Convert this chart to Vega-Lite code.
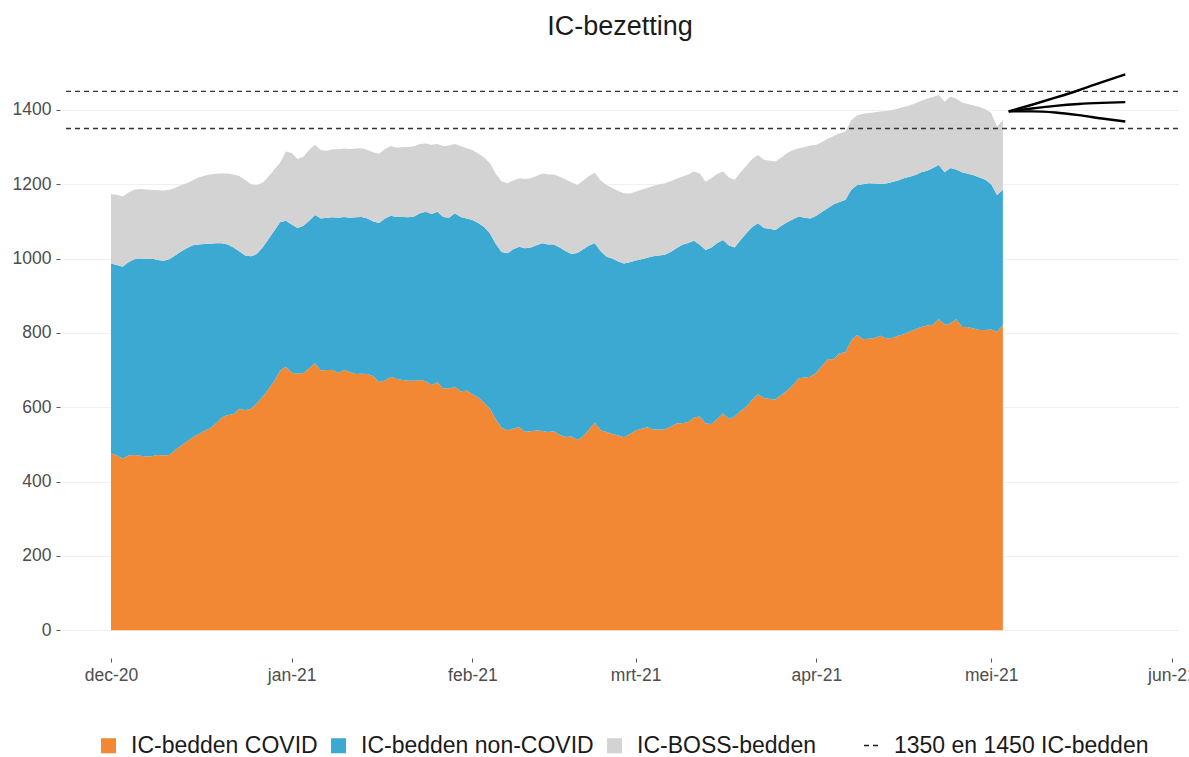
{
  "$schema": "https://vega.github.io/schema/vega-lite/v6.json",
  "width": 1116,
  "height": 609,
  "autosize": {"type": "none"},
  "padding": {"left": 62, "top": 49, "right": 11, "bottom": 99},
  "background": "white",
  "config": {
    "font": "Liberation Sans",
    "view": {"stroke": null},
    "axis": {"labelFont": "Liberation Sans"},
    "legend": {"labelFont": "Liberation Sans"}
  },
  "title": {
    "text": "IC-bezetting",
    "fontSize": 27,
    "fontWeight": "normal",
    "color": "#1a1a1a",
    "anchor": "middle",
    "offset": 8
  },
  "layer": [
    {
      "data": {
        "values": [
          {"date":"2020-12-01","bedden_covid":476,"bedden_noncovid":511,"boss_bedden":187},
          {"date":"2020-12-02","bedden_covid":470,"bedden_noncovid":513,"boss_bedden":189},
          {"date":"2020-12-03","bedden_covid":462,"bedden_noncovid":516,"boss_bedden":189},
          {"date":"2020-12-04","bedden_covid":470,"bedden_noncovid":520,"boss_bedden":188},
          {"date":"2020-12-05","bedden_covid":471,"bedden_noncovid":527,"boss_bedden":187},
          {"date":"2020-12-06","bedden_covid":469,"bedden_noncovid":531,"boss_bedden":187},
          {"date":"2020-12-07","bedden_covid":467,"bedden_noncovid":532,"boss_bedden":187},
          {"date":"2020-12-08","bedden_covid":468,"bedden_noncovid":532,"boss_bedden":185},
          {"date":"2020-12-09","bedden_covid":471,"bedden_noncovid":525,"boss_bedden":188},
          {"date":"2020-12-10","bedden_covid":470,"bedden_noncovid":524,"boss_bedden":189},
          {"date":"2020-12-11","bedden_covid":471,"bedden_noncovid":527,"boss_bedden":187},
          {"date":"2020-12-12","bedden_covid":485,"bedden_noncovid":523,"boss_bedden":182},
          {"date":"2020-12-13","bedden_covid":496,"bedden_noncovid":523,"boss_bedden":178},
          {"date":"2020-12-14","bedden_covid":508,"bedden_noncovid":520,"boss_bedden":175},
          {"date":"2020-12-15","bedden_covid":519,"bedden_noncovid":517,"boss_bedden":174},
          {"date":"2020-12-16","bedden_covid":527,"bedden_noncovid":511,"boss_bedden":180},
          {"date":"2020-12-17","bedden_covid":536,"bedden_noncovid":503,"boss_bedden":184},
          {"date":"2020-12-18","bedden_covid":543,"bedden_noncovid":497,"boss_bedden":186},
          {"date":"2020-12-19","bedden_covid":556,"bedden_noncovid":485,"boss_bedden":187},
          {"date":"2020-12-20","bedden_covid":572,"bedden_noncovid":469,"boss_bedden":188},
          {"date":"2020-12-21","bedden_covid":579,"bedden_noncovid":459,"boss_bedden":191},
          {"date":"2020-12-22","bedden_covid":581,"bedden_noncovid":449,"boss_bedden":196},
          {"date":"2020-12-23","bedden_covid":596,"bedden_noncovid":424,"boss_bedden":202},
          {"date":"2020-12-24","bedden_covid":592,"bedden_noncovid":416,"boss_bedden":204},
          {"date":"2020-12-25","bedden_covid":596,"bedden_noncovid":410,"boss_bedden":194},
          {"date":"2020-12-26","bedden_covid":610,"bedden_noncovid":402,"boss_bedden":186},
          {"date":"2020-12-27","bedden_covid":628,"bedden_noncovid":402,"boss_bedden":174},
          {"date":"2020-12-28","bedden_covid":648,"bedden_noncovid":404,"boss_bedden":168},
          {"date":"2020-12-29","bedden_covid":670,"bedden_noncovid":405,"boss_bedden":165},
          {"date":"2020-12-30","bedden_covid":698,"bedden_noncovid":400,"boss_bedden":160},
          {"date":"2020-12-31","bedden_covid":709,"bedden_noncovid":393,"boss_bedden":186},
          {"date":"2021-01-01","bedden_covid":693,"bedden_noncovid":399,"boss_bedden":192},
          {"date":"2021-01-02","bedden_covid":690,"bedden_noncovid":392,"boss_bedden":186},
          {"date":"2021-01-03","bedden_covid":692,"bedden_noncovid":396,"boss_bedden":186},
          {"date":"2021-01-04","bedden_covid":705,"bedden_noncovid":397,"boss_bedden":190},
          {"date":"2021-01-05","bedden_covid":718,"bedden_noncovid":399,"boss_bedden":189},
          {"date":"2021-01-06","bedden_covid":698,"bedden_noncovid":410,"boss_bedden":184},
          {"date":"2021-01-07","bedden_covid":700,"bedden_noncovid":410,"boss_bedden":180},
          {"date":"2021-01-08","bedden_covid":700,"bedden_noncovid":411,"boss_bedden":183},
          {"date":"2021-01-09","bedden_covid":693,"bedden_noncovid":417,"boss_bedden":184},
          {"date":"2021-01-10","bedden_covid":700,"bedden_noncovid":412,"boss_bedden":184},
          {"date":"2021-01-11","bedden_covid":695,"bedden_noncovid":415,"boss_bedden":185},
          {"date":"2021-01-12","bedden_covid":689,"bedden_noncovid":422,"boss_bedden":185},
          {"date":"2021-01-13","bedden_covid":690,"bedden_noncovid":422,"boss_bedden":185},
          {"date":"2021-01-14","bedden_covid":689,"bedden_noncovid":419,"boss_bedden":184},
          {"date":"2021-01-15","bedden_covid":683,"bedden_noncovid":417,"boss_bedden":186},
          {"date":"2021-01-16","bedden_covid":668,"bedden_noncovid":428,"boss_bedden":186},
          {"date":"2021-01-17","bedden_covid":672,"bedden_noncovid":436,"boss_bedden":187},
          {"date":"2021-01-18","bedden_covid":682,"bedden_noncovid":433,"boss_bedden":188},
          {"date":"2021-01-19","bedden_covid":676,"bedden_noncovid":436,"boss_bedden":186},
          {"date":"2021-01-20","bedden_covid":673,"bedden_noncovid":439,"boss_bedden":188},
          {"date":"2021-01-21","bedden_covid":671,"bedden_noncovid":440,"boss_bedden":189},
          {"date":"2021-01-22","bedden_covid":671,"bedden_noncovid":442,"boss_bedden":189},
          {"date":"2021-01-23","bedden_covid":673,"bedden_noncovid":449,"boss_bedden":186},
          {"date":"2021-01-24","bedden_covid":670,"bedden_noncovid":456,"boss_bedden":184},
          {"date":"2021-01-25","bedden_covid":660,"bedden_noncovid":460,"boss_bedden":186},
          {"date":"2021-01-26","bedden_covid":667,"bedden_noncovid":459,"boss_bedden":182},
          {"date":"2021-01-27","bedden_covid":650,"bedden_noncovid":462,"boss_bedden":190},
          {"date":"2021-01-28","bedden_covid":650,"bedden_noncovid":460,"boss_bedden":194},
          {"date":"2021-01-29","bedden_covid":655,"bedden_noncovid":467,"boss_bedden":186},
          {"date":"2021-01-30","bedden_covid":642,"bedden_noncovid":470,"boss_bedden":190},
          {"date":"2021-01-31","bedden_covid":645,"bedden_noncovid":463,"boss_bedden":189},
          {"date":"2021-02-01","bedden_covid":635,"bedden_noncovid":469,"boss_bedden":188},
          {"date":"2021-02-02","bedden_covid":626,"bedden_noncovid":470,"boss_bedden":187},
          {"date":"2021-02-03","bedden_covid":612,"bedden_noncovid":473,"boss_bedden":187},
          {"date":"2021-02-04","bedden_covid":596,"bedden_noncovid":472,"boss_bedden":189},
          {"date":"2021-02-05","bedden_covid":568,"bedden_noncovid":472,"boss_bedden":188},
          {"date":"2021-02-06","bedden_covid":545,"bedden_noncovid":473,"boss_bedden":190},
          {"date":"2021-02-07","bedden_covid":538,"bedden_noncovid":476,"boss_bedden":189},
          {"date":"2021-02-08","bedden_covid":542,"bedden_noncovid":483,"boss_bedden":185},
          {"date":"2021-02-09","bedden_covid":547,"bedden_noncovid":485,"boss_bedden":184},
          {"date":"2021-02-10","bedden_covid":534,"bedden_noncovid":494,"boss_bedden":186},
          {"date":"2021-02-11","bedden_covid":535,"bedden_noncovid":495,"boss_bedden":186},
          {"date":"2021-02-12","bedden_covid":537,"bedden_noncovid":499,"boss_bedden":186},
          {"date":"2021-02-13","bedden_covid":536,"bedden_noncovid":505,"boss_bedden":188},
          {"date":"2021-02-14","bedden_covid":533,"bedden_noncovid":505,"boss_bedden":188},
          {"date":"2021-02-15","bedden_covid":535,"bedden_noncovid":503,"boss_bedden":188},
          {"date":"2021-02-16","bedden_covid":525,"bedden_noncovid":505,"boss_bedden":190},
          {"date":"2021-02-17","bedden_covid":520,"bedden_noncovid":500,"boss_bedden":193},
          {"date":"2021-02-18","bedden_covid":521,"bedden_noncovid":491,"boss_bedden":193},
          {"date":"2021-02-19","bedden_covid":512,"bedden_noncovid":503,"boss_bedden":183},
          {"date":"2021-02-20","bedden_covid":522,"bedden_noncovid":503,"boss_bedden":185},
          {"date":"2021-02-21","bedden_covid":540,"bedden_noncovid":495,"boss_bedden":187},
          {"date":"2021-02-22","bedden_covid":558,"bedden_noncovid":483,"boss_bedden":190},
          {"date":"2021-02-23","bedden_covid":538,"bedden_noncovid":482,"boss_bedden":190},
          {"date":"2021-02-24","bedden_covid":533,"bedden_noncovid":472,"boss_bedden":193},
          {"date":"2021-02-25","bedden_covid":528,"bedden_noncovid":472,"boss_bedden":190},
          {"date":"2021-02-26","bedden_covid":524,"bedden_noncovid":468,"boss_bedden":190},
          {"date":"2021-02-27","bedden_covid":519,"bedden_noncovid":468,"boss_bedden":189},
          {"date":"2021-02-28","bedden_covid":528,"bedden_noncovid":462,"boss_bedden":185},
          {"date":"2021-03-01","bedden_covid":537,"bedden_noncovid":458,"boss_bedden":185},
          {"date":"2021-03-02","bedden_covid":542,"bedden_noncovid":456,"boss_bedden":187},
          {"date":"2021-03-03","bedden_covid":546,"bedden_noncovid":456,"boss_bedden":188},
          {"date":"2021-03-04","bedden_covid":540,"bedden_noncovid":466,"boss_bedden":189},
          {"date":"2021-03-05","bedden_covid":540,"bedden_noncovid":468,"boss_bedden":191},
          {"date":"2021-03-06","bedden_covid":540,"bedden_noncovid":470,"boss_bedden":193},
          {"date":"2021-03-07","bedden_covid":548,"bedden_noncovid":470,"boss_bedden":190},
          {"date":"2021-03-08","bedden_covid":556,"bedden_noncovid":472,"boss_bedden":187},
          {"date":"2021-03-09","bedden_covid":557,"bedden_noncovid":480,"boss_bedden":183},
          {"date":"2021-03-10","bedden_covid":560,"bedden_noncovid":482,"boss_bedden":184},
          {"date":"2021-03-11","bedden_covid":572,"bedden_noncovid":476,"boss_bedden":186},
          {"date":"2021-03-12","bedden_covid":575,"bedden_noncovid":462,"boss_bedden":192},
          {"date":"2021-03-13","bedden_covid":556,"bedden_noncovid":467,"boss_bedden":184},
          {"date":"2021-03-14","bedden_covid":555,"bedden_noncovid":475,"boss_bedden":186},
          {"date":"2021-03-15","bedden_covid":568,"bedden_noncovid":474,"boss_bedden":186},
          {"date":"2021-03-16","bedden_covid":583,"bedden_noncovid":467,"boss_bedden":184},
          {"date":"2021-03-17","bedden_covid":568,"bedden_noncovid":467,"boss_bedden":183},
          {"date":"2021-03-18","bedden_covid":575,"bedden_noncovid":455,"boss_bedden":182},
          {"date":"2021-03-19","bedden_covid":590,"bedden_noncovid":460,"boss_bedden":182},
          {"date":"2021-03-20","bedden_covid":601,"bedden_noncovid":467,"boss_bedden":182},
          {"date":"2021-03-21","bedden_covid":620,"bedden_noncovid":465,"boss_bedden":183},
          {"date":"2021-03-22","bedden_covid":635,"bedden_noncovid":460,"boss_bedden":184},
          {"date":"2021-03-23","bedden_covid":625,"bedden_noncovid":457,"boss_bedden":184},
          {"date":"2021-03-24","bedden_covid":622,"bedden_noncovid":458,"boss_bedden":183},
          {"date":"2021-03-25","bedden_covid":621,"bedden_noncovid":456,"boss_bedden":184},
          {"date":"2021-03-26","bedden_covid":633,"bedden_noncovid":455,"boss_bedden":184},
          {"date":"2021-03-27","bedden_covid":645,"bedden_noncovid":453,"boss_bedden":186},
          {"date":"2021-03-28","bedden_covid":660,"bedden_noncovid":446,"boss_bedden":186},
          {"date":"2021-03-29","bedden_covid":678,"bedden_noncovid":435,"boss_bedden":184},
          {"date":"2021-03-30","bedden_covid":680,"bedden_noncovid":430,"boss_bedden":190},
          {"date":"2021-03-31","bedden_covid":682,"bedden_noncovid":426,"boss_bedden":196},
          {"date":"2021-04-01","bedden_covid":693,"bedden_noncovid":422,"boss_bedden":191},
          {"date":"2021-04-02","bedden_covid":712,"bedden_noncovid":414,"boss_bedden":188},
          {"date":"2021-04-03","bedden_covid":729,"bedden_noncovid":407,"boss_bedden":187},
          {"date":"2021-04-04","bedden_covid":729,"bedden_noncovid":417,"boss_bedden":184},
          {"date":"2021-04-05","bedden_covid":745,"bedden_noncovid":407,"boss_bedden":185},
          {"date":"2021-04-06","bedden_covid":748,"bedden_noncovid":410,"boss_bedden":184},
          {"date":"2021-04-07","bedden_covid":780,"bedden_noncovid":405,"boss_bedden":187},
          {"date":"2021-04-08","bedden_covid":794,"bedden_noncovid":404,"boss_bedden":188},
          {"date":"2021-04-09","bedden_covid":783,"bedden_noncovid":417,"boss_bedden":190},
          {"date":"2021-04-10","bedden_covid":784,"bedden_noncovid":419,"boss_bedden":189},
          {"date":"2021-04-11","bedden_covid":786,"bedden_noncovid":416,"boss_bedden":192},
          {"date":"2021-04-12","bedden_covid":792,"bedden_noncovid":409,"boss_bedden":195},
          {"date":"2021-04-13","bedden_covid":785,"bedden_noncovid":417,"boss_bedden":195},
          {"date":"2021-04-14","bedden_covid":786,"bedden_noncovid":420,"boss_bedden":194},
          {"date":"2021-04-15","bedden_covid":792,"bedden_noncovid":418,"boss_bedden":194},
          {"date":"2021-04-16","bedden_covid":796,"bedden_noncovid":420,"boss_bedden":192},
          {"date":"2021-04-17","bedden_covid":804,"bedden_noncovid":416,"boss_bedden":192},
          {"date":"2021-04-18","bedden_covid":810,"bedden_noncovid":415,"boss_bedden":193},
          {"date":"2021-04-19","bedden_covid":816,"bedden_noncovid":416,"boss_bedden":193},
          {"date":"2021-04-20","bedden_covid":820,"bedden_noncovid":416,"boss_bedden":194},
          {"date":"2021-04-21","bedden_covid":822,"bedden_noncovid":422,"boss_bedden":191},
          {"date":"2021-04-22","bedden_covid":837,"bedden_noncovid":415,"boss_bedden":188},
          {"date":"2021-04-23","bedden_covid":822,"bedden_noncovid":410,"boss_bedden":190},
          {"date":"2021-04-24","bedden_covid":825,"bedden_noncovid":419,"boss_bedden":192},
          {"date":"2021-04-25","bedden_covid":837,"bedden_noncovid":403,"boss_bedden":190},
          {"date":"2021-04-26","bedden_covid":816,"bedden_noncovid":416,"boss_bedden":188},
          {"date":"2021-04-27","bedden_covid":816,"bedden_noncovid":412,"boss_bedden":188},
          {"date":"2021-04-28","bedden_covid":812,"bedden_noncovid":412,"boss_bedden":188},
          {"date":"2021-04-29","bedden_covid":808,"bedden_noncovid":410,"boss_bedden":190},
          {"date":"2021-04-30","bedden_covid":808,"bedden_noncovid":404,"boss_bedden":190},
          {"date":"2021-05-01","bedden_covid":809,"bedden_noncovid":391,"boss_bedden":192},
          {"date":"2021-05-02","bedden_covid":803,"bedden_noncovid":368,"boss_bedden":184},
          {"date":"2021-05-03","bedden_covid":821,"bedden_noncovid":364,"boss_bedden":188}
        ]
      },
      "transform": [{"fold": ["bedden_covid", "bedden_noncovid", "boss_bedden"], "as": ["serie", "aantal"]}],
      "mark": {"type": "area", "interpolate": "linear"},
      "encoding": {
        "x": {
          "field": "date",
          "type": "temporal",
          "scale": {
            "type": "utc",
            "domain": [
              {"year": 2020, "month": 11, "date": 22, "hours": 14, "minutes": 17, "utc": true},
              {"year": 2021, "month": 6, "date": 2, "hours": 1, "utc": true}
            ]
          },
          "axis": {
            "title": null,
            "grid": false,
            "domain": false,
            "values": [
              {"year": 2020, "month": 12, "date": 1, "utc": true},
              {"year": 2021, "month": 1, "date": 1, "utc": true},
              {"year": 2021, "month": 2, "date": 1, "utc": true},
              {"year": 2021, "month": 3, "date": 1, "utc": true},
              {"year": 2021, "month": 4, "date": 1, "utc": true},
              {"year": 2021, "month": 5, "date": 1, "utc": true},
              {"year": 2021, "month": 6, "date": 1, "utc": true}
            ],
            "labelExpr": "['jan','feb','mrt','apr','mei','jun','jul','aug','sep','okt','nov','dec'][utcmonth(datum.value)] + '-' + utcFormat(datum.value, '%y')",
            "labelFontSize": 17.5,
            "labelColor": "#4d4d4d",
            "tickColor": "#555555",
            "tickSize": 4,
            "labelPadding": 4,
            "labelFlush": false,
            "labelOverlap": false
          }
        },
        "y": {
          "field": "aantal",
          "type": "quantitative",
          "stack": "zero",
          "scale": {"domain": [-75, 1564], "nice": false, "zero": false},
          "axis": {
            "title": null,
            "values": [0, 200, 400, 600, 800, 1000, 1200, 1400],
            "format": "d",
            "grid": true,
            "gridColor": "#f0f0f0",
            "gridWidth": 1,
            "domain": false,
            "offset": 2,
            "labelFontSize": 17.5,
            "labelColor": "#4d4d4d",
            "tickColor": "#555555",
            "tickSize": 4,
            "labelPadding": 5
          }
        },
        "order": {"field": "serie", "type": "nominal", "sort": "ascending"},
        "color": {
          "field": "serie",
          "type": "nominal",
          "sort": ["bedden_covid", "bedden_noncovid", "boss_bedden"],
          "scale": {
            "domain": ["bedden_covid", "bedden_noncovid", "boss_bedden"],
            "range": ["#f28734", "#3ba9d2", "#d3d3d3"]
          },
          "legend": {
            "title": null,
            "orient": "none",
            "direction": "horizontal",
            "legendX": 35,
            "legendY": 685,
            "symbolType": "square",
            "symbolSize": 225,
            "symbolStrokeWidth": 0,
            "labelFontSize": 23,
            "labelColor": "#1a1a1a",
            "labelOffset": 11,
            "labelLimit": 0,
            "columnPadding": 9,
            "labelExpr": "datum.label == 'bedden_covid' ? 'IC-bedden COVID' : datum.label == 'bedden_noncovid' ? 'IC-bedden non-COVID' : 'IC-BOSS-bedden'"
          }
        }
      }
    },
    {
      "data": {"values": [{"grens": 1350}, {"grens": 1450}]},
      "mark": {"type": "rule", "color": "#333333", "strokeWidth": 1.3},
      "encoding": {
        "y": {"field": "grens", "type": "quantitative"},
        "strokeDash": {
          "datum": "1350 en 1450 IC-bedden",
          "type": "nominal",
          "scale": {"range": [[5, 4]]},
          "legend": {
            "title": null,
            "orient": "none",
            "legendX": 798,
            "legendY": 685,
            "symbolType": "stroke",
            "symbolSize": 225,
            "symbolStrokeColor": "#1a1a1a",
            "symbolStrokeWidth": 1.5,
            "labelFontSize": 23,
            "labelColor": "#1a1a1a",
            "labelOffset": 11,
            "labelLimit": 0
          }
        }
      }
    },
    {
      "data": {
        "values": [
          {"date": "2021-05-04", "scenario": "hoog", "aantal": 1396},
          {"date": "2021-05-08", "scenario": "hoog", "aantal": 1414},
          {"date": "2021-05-12", "scenario": "hoog", "aantal": 1433},
          {"date": "2021-05-16", "scenario": "hoog", "aantal": 1453},
          {"date": "2021-05-20", "scenario": "hoog", "aantal": 1475},
          {"date": "2021-05-24", "scenario": "hoog", "aantal": 1496},
          {"date": "2021-05-04", "scenario": "midden", "aantal": 1396},
          {"date": "2021-05-08", "scenario": "midden", "aantal": 1404},
          {"date": "2021-05-12", "scenario": "midden", "aantal": 1411},
          {"date": "2021-05-16", "scenario": "midden", "aantal": 1416},
          {"date": "2021-05-20", "scenario": "midden", "aantal": 1419},
          {"date": "2021-05-24", "scenario": "midden", "aantal": 1421},
          {"date": "2021-05-04", "scenario": "laag", "aantal": 1396},
          {"date": "2021-05-08", "scenario": "laag", "aantal": 1396},
          {"date": "2021-05-12", "scenario": "laag", "aantal": 1393},
          {"date": "2021-05-16", "scenario": "laag", "aantal": 1386},
          {"date": "2021-05-20", "scenario": "laag", "aantal": 1377},
          {"date": "2021-05-24", "scenario": "laag", "aantal": 1369}
        ]
      },
      "mark": {"type": "line", "color": "#000000", "strokeWidth": 2.4, "interpolate": "monotone"},
      "encoding": {
        "x": {"field": "date", "type": "temporal"},
        "y": {"field": "aantal", "type": "quantitative"},
        "detail": {"field": "scenario", "type": "nominal"}
      }
    }
  ]
}
